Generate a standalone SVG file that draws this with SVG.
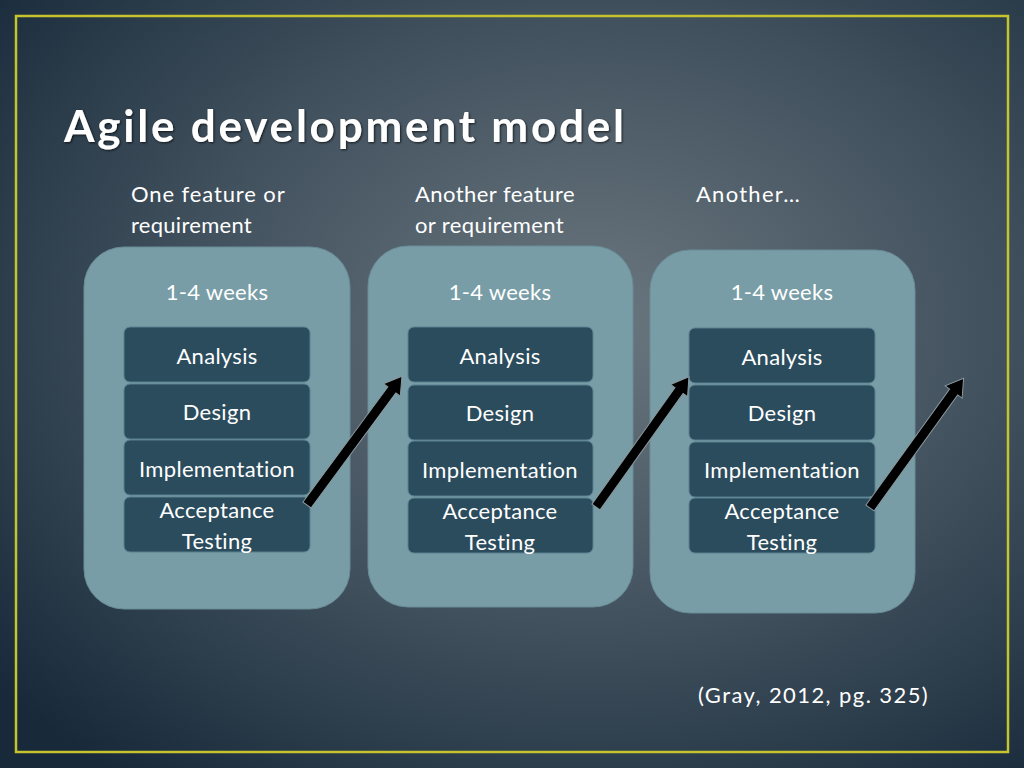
<svg xmlns="http://www.w3.org/2000/svg" width="1024" height="768" viewBox="0 0 1024 768">
<defs>
<radialGradient id="bg" cx="0.58" cy="0.42" r="0.75">
<stop offset="0" stop-color="#6b777f"/>
<stop offset="0.55" stop-color="#3f4f5c"/>
<stop offset="1" stop-color="#182a3a"/>
</radialGradient>
<path id="arrow" d="M0,-5 L143,-5 L143,-10.5 L160,0 L143,10.5 L143,5 L0,5 Z" fill="#000" stroke="#8a9aa0" stroke-width="1"/>
<filter id="sh" x="-5%" y="-20%" width="110%" height="140%"><feDropShadow dx="1" dy="1" stdDeviation="0.8" flood-color="#000" flood-opacity="0.7"/></filter>
</defs>
<style>
.t{font-family:Lato,"Liberation Sans",sans-serif;fill:#fff;font-size:22px;letter-spacing:0.3px}
.c{text-anchor:middle}
.cont{fill:#789da6;stroke:#6a8c96;stroke-width:1}
.box{fill:#2b4c5d;stroke:#5a8090;stroke-width:1}
</style>
<rect width="1024" height="768" fill="url(#bg)"/>
<rect x="16" y="16" width="992" height="736" fill="none" stroke="#c6c42c" stroke-width="2.5"/>
<text x="64" y="142" font-family="Lato,'Liberation Sans',sans-serif" font-weight="bold" font-size="44" fill="#fff" textLength="560" lengthAdjust="spacing" filter="url(#sh)">Agile development model</text>

<g id="labels">
<text class="t" x="131" y="202" textLength="154">One feature or</text>
<text class="t" x="131" y="233" textLength="121">requirement</text>
<text class="t" x="415" y="202" textLength="160">Another feature</text>
<text class="t" x="415" y="233" textLength="149">or requirement</text>
<text class="t" x="696" y="202" textLength="104">Another…</text>
</g>

<g id="iteration1">
<rect class="cont" x="84" y="247" width="266" height="362" rx="40"/>
<text class="t c" x="217" y="300">1-4 weeks</text>
<rect class="box" x="124" y="327" width="186" height="55" rx="6"/>
<text class="t c" x="217" y="364">Analysis</text>
<rect class="box" x="124" y="384" width="186" height="55" rx="6"/>
<text class="t c" x="217" y="420">Design</text>
<rect class="box" x="124" y="440" width="186" height="55" rx="6"/>
<text class="t c" x="217" y="477">Implementation</text>
<rect class="box" x="124" y="497" width="186" height="55" rx="6"/>
<text class="t c" x="217" y="518">Acceptance</text>
<text class="t c" x="217" y="549">Testing</text>
</g>

<g id="iteration2">
<rect class="cont" x="368" y="246" width="265" height="361" rx="40"/>
<text class="t c" x="500" y="300">1-4 weeks</text>
<rect class="box" x="408" y="327" width="185" height="55" rx="6"/>
<text class="t c" x="500" y="364">Analysis</text>
<rect class="box" x="408" y="385" width="185" height="55" rx="6"/>
<text class="t c" x="500" y="421">Design</text>
<rect class="box" x="408" y="441" width="185" height="55" rx="6"/>
<text class="t c" x="500" y="478">Implementation</text>
<rect class="box" x="408" y="498" width="185" height="55" rx="6"/>
<text class="t c" x="500" y="519">Acceptance</text>
<text class="t c" x="500" y="550">Testing</text>
</g>

<g id="iteration3">
<rect class="cont" x="650" y="250" width="265" height="363" rx="40"/>
<text class="t c" x="782" y="300">1-4 weeks</text>
<rect class="box" x="689" y="328" width="186" height="55" rx="6"/>
<text class="t c" x="782" y="365">Analysis</text>
<rect class="box" x="689" y="385" width="186" height="55" rx="6"/>
<text class="t c" x="782" y="421">Design</text>
<rect class="box" x="689" y="442" width="186" height="55" rx="6"/>
<text class="t c" x="782" y="478">Implementation</text>
<rect class="box" x="689" y="498" width="186" height="55" rx="6"/>
<text class="t c" x="782" y="519">Acceptance</text>
<text class="t c" x="782" y="550">Testing</text>
</g>

<g id="connectors">
<use href="#arrow" transform="translate(307,505) rotate(-53.6)"/>
<use href="#arrow" transform="translate(596,507) rotate(-54.5)"/>
<use href="#arrow" transform="translate(870,508) rotate(-54.2)"/>
</g>

<text class="t" x="698" y="703" textLength="230">(Gray, 2012, pg. 325)</text>
</svg>
